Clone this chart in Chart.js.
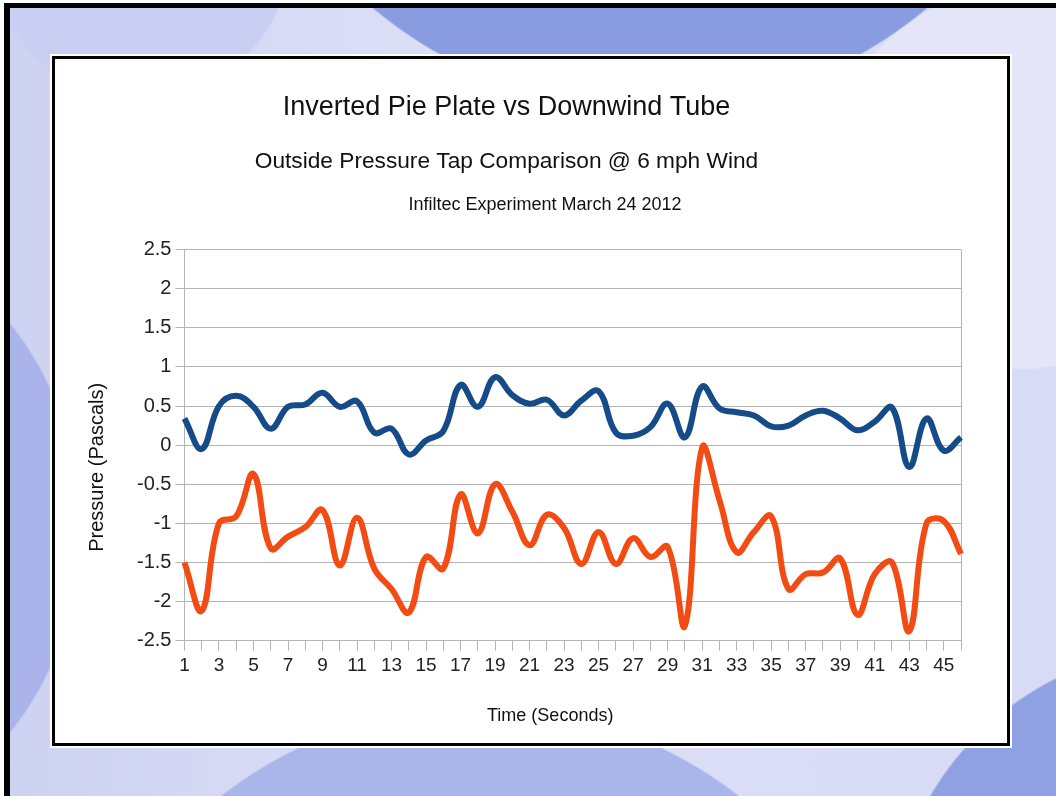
<!DOCTYPE html>
<html>
<head>
<meta charset="utf-8">
<title>Inverted Pie Plate vs Downwind Tube</title>
<script src="https://cdn.jsdelivr.net/npm/chart.js@4/dist/chart.umd.min.js"></script>
<style>
  html, body { margin: 0; padding: 0; }
  body {
    width: 1056px; height: 796px; position: relative; overflow: hidden;
    background: #ffffff;
  }
  /* slide background behind the chart panel */
  .slide {
    position: absolute; left: 4px; top: 3px; width: 1100px; height: 900px;
    border-top: 5px solid #000; border-left: 6px solid #000;
    background:
      radial-gradient(circle at 640px -330px, #8a9ce0 0 430px, transparent 432px),
      radial-gradient(circle at 130px -60px, #c9cff2 0 150px, transparent 152px),
      radial-gradient(circle at 1010px 170px, #e4e6f8 0 190px, transparent 192px),
      radial-gradient(circle at 470px 1120px, #aab5ea 0 420px, transparent 422px),
      radial-gradient(circle at -260px 520px, #aab4ea 0 330px, transparent 332px),
      radial-gradient(circle at 1180px 940px, #8fa1e2 0 300px, transparent 302px),
      linear-gradient(90deg, #cdd2f2 0%, #dde0f6 40%, #d6daf4 100%);
  }
  .panel {
    position: absolute; left: 52px; top: 56px; width: 952px; height: 684px;
    background: #fff; border: 3px solid #000;
    box-shadow: 0 0 0 2px #fff;
  }
  .wrap { position: absolute; left: 0; top: 0; width: 1056px; height: 796px; }
</style>
</head>
<body>
<div class="slide"></div>
<div class="panel"></div>
<div class="wrap"><canvas id="chart"></canvas></div>
<script>
// ── Data ────────────────────────────────────────────────────
const seconds = ['1','2','3','4','5','6','7','8','9','10','11','12','13','14','15','16',
  '17','18','19','20','21','22','23','24','25','26','27','28','29','30','31','32',
  '33','34','35','36','37','38','39','40','41','42','43','44','45','46'];

const pieplate = [0.34, -0.05, 0.50, 0.63, 0.49, 0.21, 0.49, 0.52, 0.67, 0.49,
  0.56, 0.16, 0.21, -0.12, 0.06, 0.18, 0.77, 0.49, 0.87, 0.64,
  0.53, 0.58, 0.38, 0.57, 0.69, 0.16, 0.12, 0.23, 0.53, 0.10,
  0.75, 0.47, 0.42, 0.38, 0.24, 0.25, 0.38, 0.44, 0.34, 0.19,
  0.30, 0.48, -0.28, 0.34, -0.07, 0.10];

const downwind = [-1.50, -2.12, -1.00, -0.91, -0.37, -1.32, -1.17, -1.05, -0.83, -1.54,
  -0.93, -1.58, -1.84, -2.14, -1.43, -1.58, -0.63, -1.13, -0.50, -0.85,
  -1.28, -0.89, -1.06, -1.52, -1.11, -1.52, -1.19, -1.43, -1.30, -2.31,
  -0.03, -0.70, -1.37, -1.11, -0.91, -1.84, -1.65, -1.63, -1.45, -2.17,
  -1.65, -1.50, -2.38, -1.00, -0.97, -1.39];

const titleText = 'Inverted Pie Plate vs Downwind Tube';
const subtitleText = 'Outside Pressure Tap Comparison @ 6 mph Wind';
const captionText = 'Infiltec Experiment March 24 2012';

const GRID = '#b4b4b4';
const FONT = "'Liberation Sans', Arial, sans-serif";

// third heading line, drawn under the subtitle
const captionPlugin = {
  id: 'caption',
  afterDraw(chart) {
    const { ctx, chartArea } = chart;
    ctx.save();
    ctx.font = "18px 'Liberation Sans', Arial, sans-serif";
    ctx.fillStyle = '#111';
    ctx.textAlign = 'center';
    ctx.textBaseline = 'middle';
    ctx.fillText(captionText, 545, chartArea.top - 45);
    ctx.restore();
  },
};

new Chart(document.getElementById('chart'), {
  type: 'line',
  data: {
    labels: seconds,
    datasets: [
      {
        label: 'Inverted Pie Plate',
        data: pieplate,
        borderColor: '#154b88',
        borderWidth: 6,
        pointRadius: 0,
        tension: 0.4,
        fill: false,
      },
      {
        label: 'Downwind Tube',
        data: downwind,
        borderColor: '#f24c14',
        borderWidth: 6,
        pointRadius: 0,
        tension: 0.4,
        fill: false,
      },
    ],
  },
  options: {
    responsive: true,
    maintainAspectRatio: false,
    animation: false,
    layout: { padding: { left: 52, right: 95, top: 91, bottom: 65 } },
    plugins: {
      legend: { display: false },
      tooltip: { enabled: false },
      title: {
        display: true,
        text: titleText,
        color: '#111',
        font: { family: FONT, size: 27, weight: 'normal' },
        padding: { top: 0, bottom: 25 },
      },
      subtitle: {
        display: true,
        text: subtitleText,
        color: '#111',
        font: { family: FONT, size: 22.7, weight: 'normal' },
        padding: { top: 0, bottom: 74 },
      },
    },
    scales: {
      x: {
        grid: {
          color: ctx => (ctx.index === seconds.length - 1 ? GRID : 'transparent'),
          tickColor: GRID,
          tickLength: 10,
        },
        border: { color: GRID },
        ticks: {
          color: '#222',
          autoSkip: false,
          maxRotation: 0,
          padding: 4,
          font: { family: FONT, size: 19 },
          callback: function (value, index) {
            return index % 2 === 0 ? this.getLabelForValue(value) : '';
          },
        },
        title: {
          display: true,
          // trailing spaces nudge the centred title left, as in the original
          text: 'Time (Seconds)         ',
          color: '#111',
          font: { family: FONT, size: 18 },
          padding: { top: 24, bottom: 4 },
        },
      },
      y: {
        min: -2.5,
        max: 2.5,
        grid: { color: GRID, tickColor: GRID, tickLength: 9 },
        border: { color: GRID },
        ticks: {
          stepSize: 0.5,
          color: '#222',
          padding: 4,
          font: { family: FONT, size: 20 },
          callback: v => String(Number(v.toFixed(1))),
        },
        title: {
          display: true,
          text: 'Pressure (Pascals)        ',
          color: '#111',
          font: { family: FONT, size: 20 },
          padding: { top: 33, bottom: 24 },
        },
      },
    },
  },
  plugins: [captionPlugin],
});
</script>
</body>
</html>
